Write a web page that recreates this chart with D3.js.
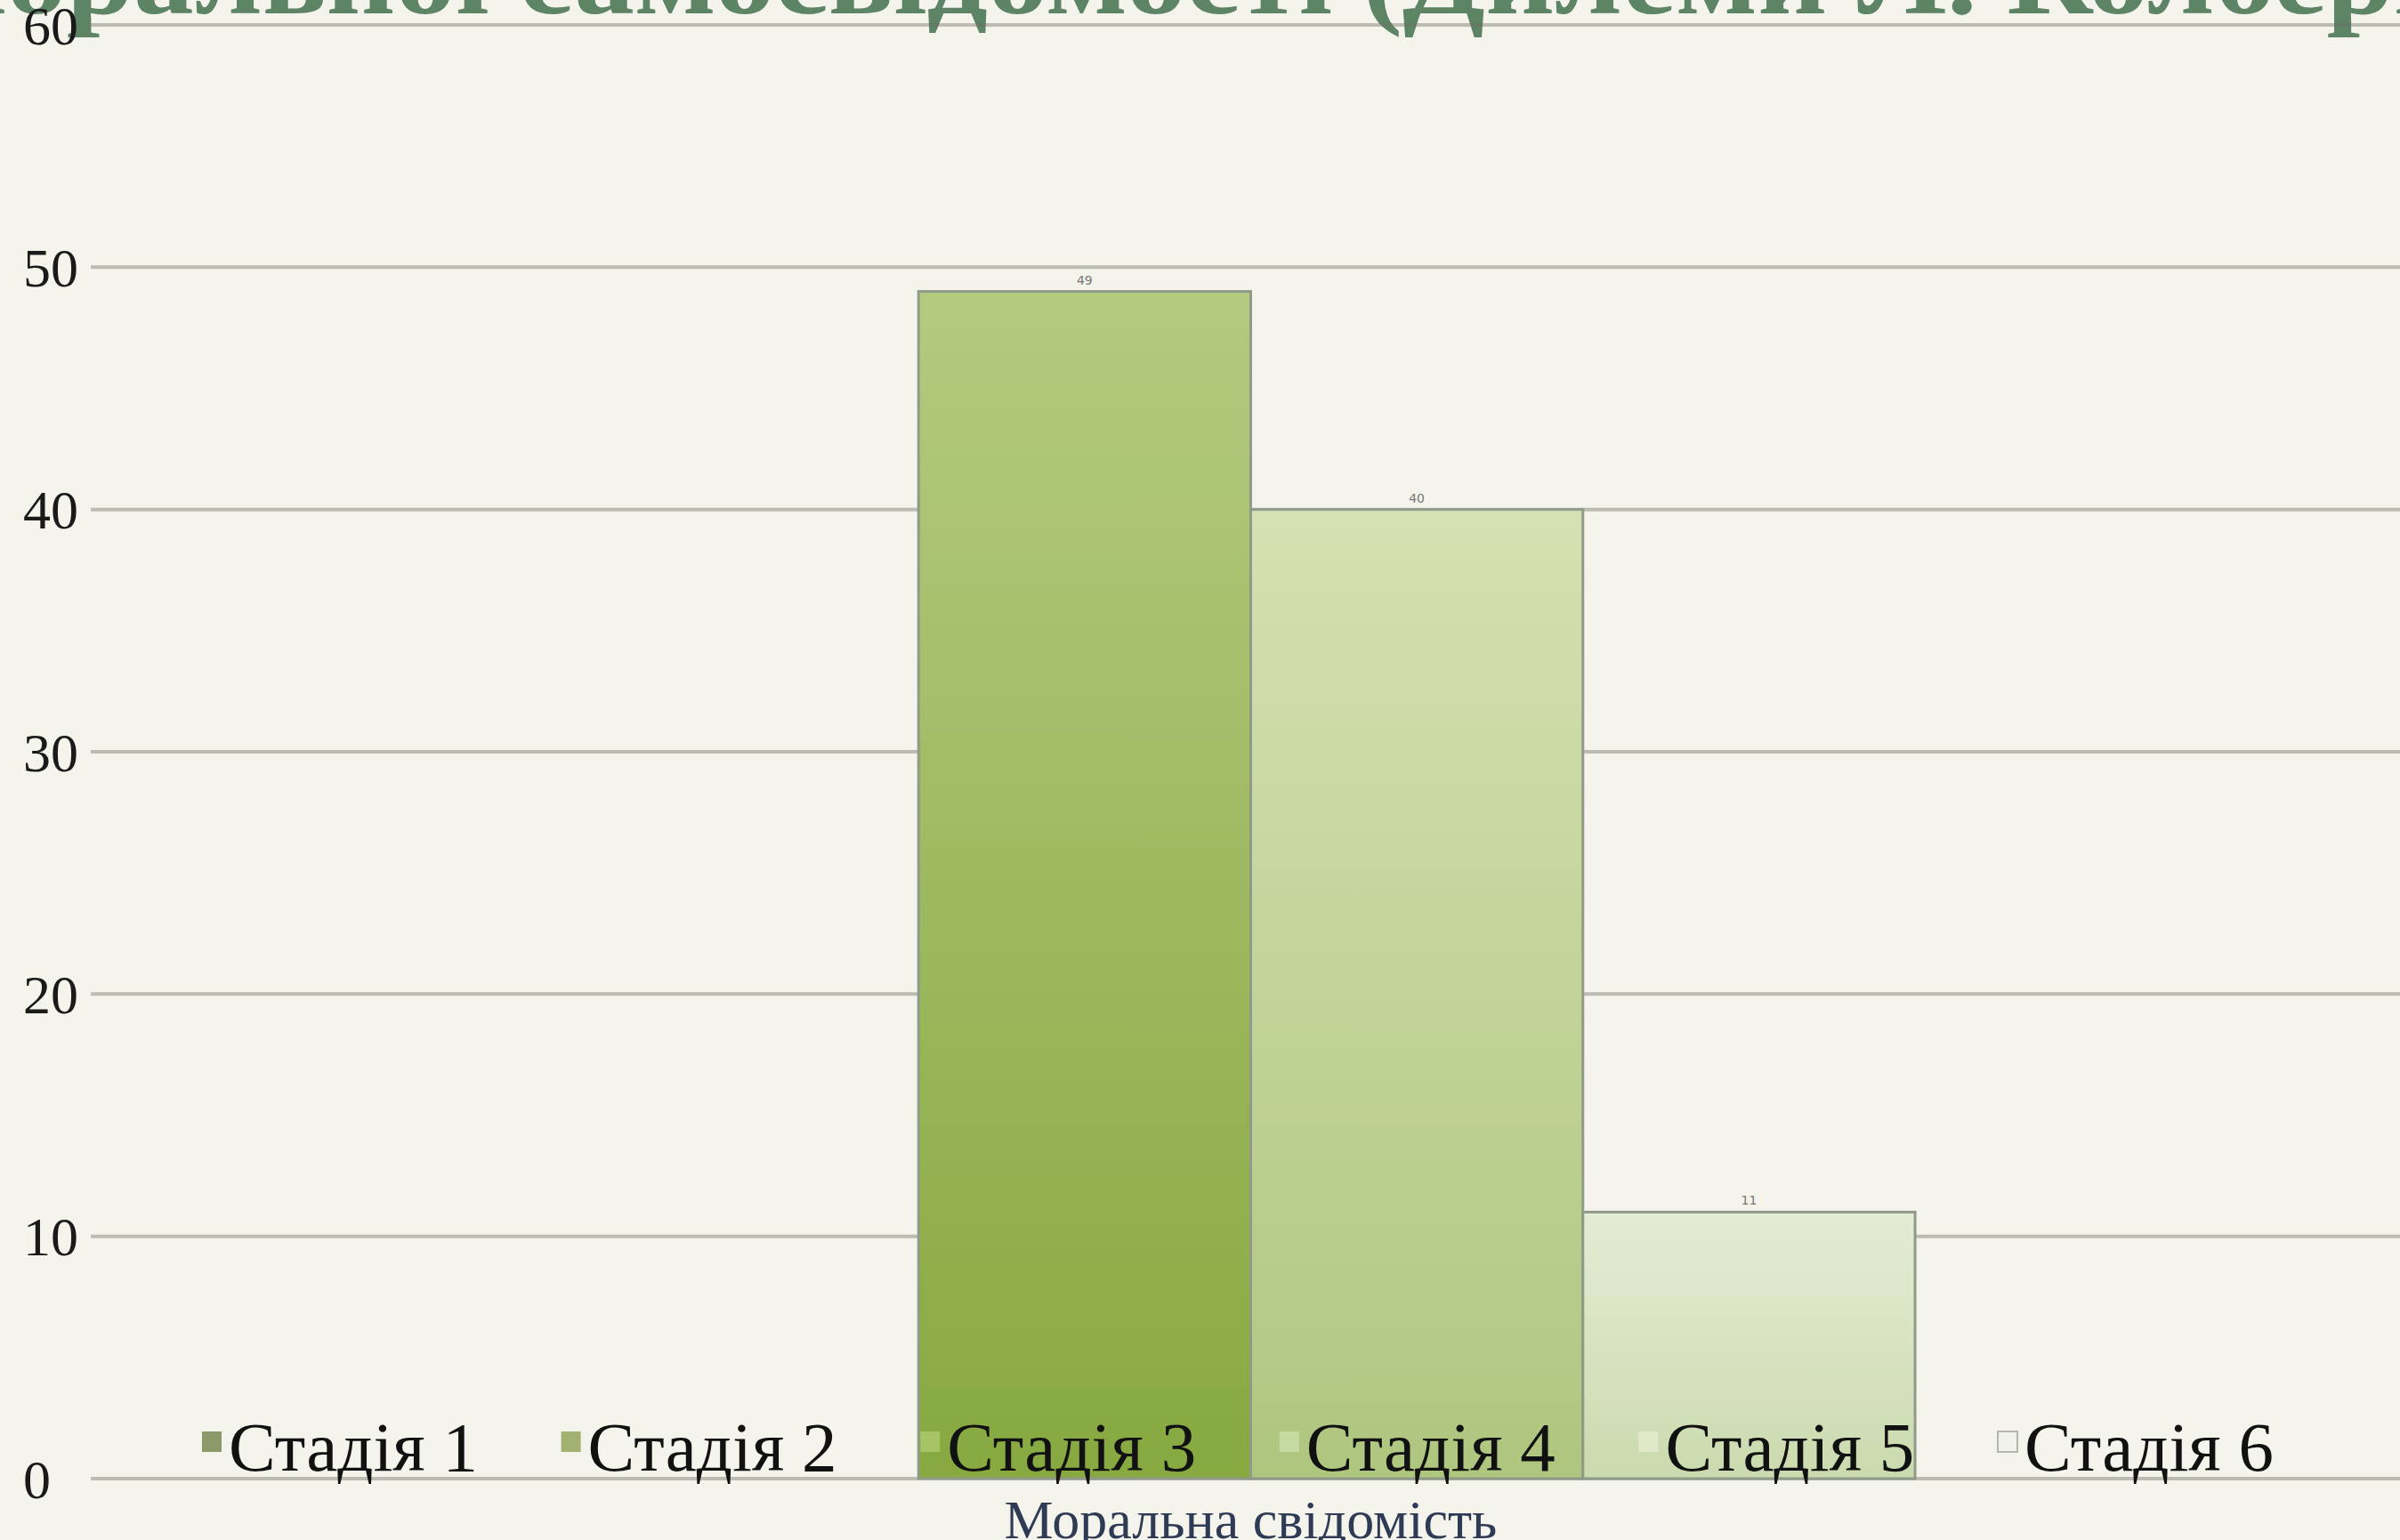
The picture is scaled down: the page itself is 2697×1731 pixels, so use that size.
<!DOCTYPE html>
<html>
<head>
<meta charset="utf-8">
<script src="https://cdn.jsdelivr.net/npm/d3@7"></script>
<style>
  html, body { margin: 0; padding: 0; background: #f4f4ec; overflow: hidden; }
  svg { display: block; }
</style>
</head>
<body>
<svg id="chart" width="2697" height="1731"></svg>
<script>
// ---- data ----
const category = ["Моральна свідомість"];
const series = ["Стадія 1", "Стадія 2", "Стадія 3", "Стадія 4", "Стадія 5", "Стадія 6"];
const values = [0, 0, 49, 40, 11, 0];
const yTicks = [0, 10, 20, 30, 40, 50, 60];
const titleText = "моральної самосвідомості (Дилеми Л. Колберга)";
const axisTitle = "Моральна свідомість";

// ---- styles ----
const topColors = ["#9aa679", "#aab87e", "#b4ca80", "#d4e1b2", "#e4ecd4", "#f3f3ec"];
const botColors = ["#86936a", "#98a86c", "#87a940", "#afc67f", "#cbdaae", "#eeeee6"];
const markerColors = ["#8c9a6a", "#a2b072", "#a6c466", "#c6dba2", "#dfe9c9", "#f1f2ea"];

const W = 2697, H = 1731;
const svg = d3.select("#chart");
const defs = svg.append("defs");
series.forEach((s, i) => {
  const g = defs.append("linearGradient").attr("id", "grad" + i)
    .attr("x1", 0).attr("y1", 0).attr("x2", 0).attr("y2", 1);
  g.append("stop").attr("offset", "0%").attr("stop-color", topColors[i]);
  g.append("stop").attr("offset", "100%").attr("stop-color", botColors[i]);
});

svg.append("rect").attr("width", W).attr("height", H).attr("fill", "#f4f4ec");

// ---- scales ----
const y = d3.scaleLinear().domain([0, 60]).range([1662, 28]);
const x0 = d3.scaleBand().domain(category).range([102, 2709]).paddingOuter(0.082).paddingInner(0);
const x1 = d3.scaleBand().domain(series).range([0, x0.bandwidth()]).padding(0);

// ---- title (cropped at top) ----
const titleG = svg.append("g");
const title = titleG.append("text")
  .attr("font-family", "'Liberation Serif', 'Times New Roman', serif")
  .attr("font-weight", "bold")
  .attr("font-size", 124)
  .attr("fill", "#5e8466")
  .attr("y", 15)
  .text(titleText);
// measure to position: "м" partly off the left edge, "Колбер" reaching right edge
const tmp = titleG.append("text")
  .attr("font-family", "'Liberation Serif', 'Times New Roman', serif")
  .attr("font-weight", "bold").attr("font-size", 124);
tmp.text("м");
const wM = tmp.node().getComputedTextLength();
tmp.text(titleText.slice(1, titleText.indexOf("Колбер") + 6));
const wVis = tmp.node().getComputedTextLength();
tmp.remove();
const sx = (2692 - 9) / wVis;
title.attr("x", 0);
titleG.attr("transform", `translate(${9 - wM * sx},0) scale(${sx},1)`);

// ---- gridlines ----
const grid = svg.append("g");
grid.selectAll("line").data(yTicks).join("line")
  .attr("x1", 102).attr("x2", W)
  .attr("y1", d => y(d)).attr("y2", d => y(d))
  .attr("stroke", "rgba(110,110,100,0.42)").attr("stroke-width", 4);

// ---- y tick labels ----
svg.append("g").selectAll("text").data(yTicks).join("text")
  .attr("x", 26).attr("y", d => y(d))
  .attr("dy", "0.35em")
  .attr("font-family", "'Liberation Serif', 'Times New Roman', serif")
  .attr("font-size", 62).attr("fill", "#1a1a1a")
  .text(d => d);

// ---- bars ----
const barG = svg.append("g").attr("transform", `translate(${x0(category[0])},0)`);
const barData = series.map((s, i) => ({ s, i, v: values[i] }));
barG.selectAll("rect").data(barData.filter(d => d.v > 0)).join("rect")
  .attr("x", d => x1(d.s)).attr("width", x1.bandwidth())
  .attr("y", d => y(d.v)).attr("height", d => y(0) - y(d.v))
  .attr("fill", d => `url(#grad${d.i})`)
  .attr("stroke", "#8f9a88").attr("stroke-width", 3);

// data labels
barG.selectAll("text").data(barData.filter(d => d.v > 0)).join("text")
  .attr("x", d => x1(d.s) + x1.bandwidth() / 2)
  .attr("y", d => y(d.v) - 8)
  .attr("text-anchor", "middle")
  .attr("font-family", "'DejaVu Sans', sans-serif")
  .attr("font-size", 14).attr("fill", "#777")
  .text(d => d.v);

// ---- legend ----
const lg = d3.scaleBand().domain(series).range([227, 227 + 6 * 403.6]);
const legend = svg.append("g");
const items = legend.selectAll("g").data(series).join("g")
  .attr("transform", d => `translate(${lg(d)},0)`);
items.append("rect")
  .attr("x", 0).attr("y", 1609).attr("width", 22).attr("height", 23)
  .attr("fill", (d, i) => markerColors[i])
  .attr("stroke", (d, i) => i === 5 ? "#b5b5ac" : "none")
  .attr("stroke-width", 2);
items.append("text")
  .attr("x", 30).attr("y", 1653)
  .attr("font-family", "'Liberation Serif', 'Times New Roman', serif")
  .attr("font-size", 79).attr("fill", "#111")
  .text(d => d);

// ---- x axis title ----
svg.append("text")
  .attr("x", x0(category[0]) + x0.bandwidth() / 2).attr("y", 1729)
  .attr("text-anchor", "middle")
  .attr("font-family", "'Liberation Serif', 'Times New Roman', serif")
  .attr("font-size", 62).attr("fill", "#2f3a55")
  .text(axisTitle);
</script>
</body>
</html>
